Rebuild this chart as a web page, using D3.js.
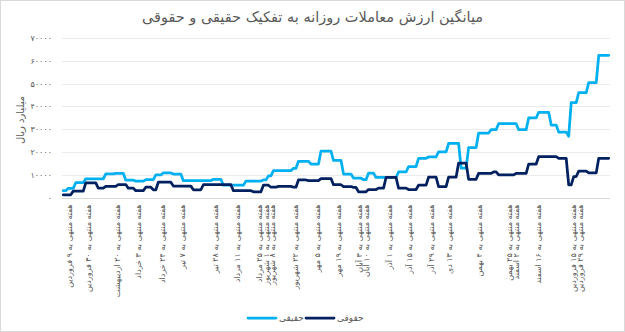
<!DOCTYPE html>
<html>
<head>
<meta charset="utf-8">
<script src="https://cdn.jsdelivr.net/npm/d3@7"></script>
<style>
  body { margin: 0; background: #fff; }
  svg { display: block; }
  text { font-family: "DejaVu Sans", "Noto Sans", sans-serif; fill: #595959; }
</style>
</head>
<body>
<svg id="chart" width="625" height="332"></svg>
<script>
// Average daily trading value (billion rials), individual vs. institutional.
const chartTitle = "میانگین ارزش معاملات روزانه به تفکیک حقیقی و حقوقی";
const yAxisTitle = "میلیارد ریال";
const seriesNames = ["حقیقی", "حقوقی"];
const yTicks = [0, 10000, 20000, 30000, 40000, 50000, 60000, 70000];

// Weekly average held over that week's trading days: [value, trading days]
const realSteps = [
  [3000,2],[4000,3],[6500,4],[8200,8],[10400,4],[10600,4],[7600,4],[7200,4],
  [7800,4],[9900,3],[10800,4],[10300,4],[7400,12],[8000,4],[5400,9],[7200,7],
  [7700,2],[9500,2],[11800,8],[12800,2],[15900,5],[14700,4],[20300,5],[16300,4],
  [10300,4],[8500,4],[7800,2],[10700,3],[8800,9],[11200,4],[13600,4],[17200,4],
  [17800,4],[20000,4],[23700,5],[12900,3],[21900,4],[28300,5],[29800,3],[32400,8],
  [29800,4],[34900,4],[37400,5],[31800,3],[28700,4],[26900,1],[41600,3],[46000,4],
  [50400,4],[62400,5]
];
const legalSteps = [
  [1200,4],[2800,5],[6400,5],[4100,3],[4900,5],[5700,4],[4100,3],[3000,4],
  [4500,3],[3400,2],[6700,6],[5000,8],[3400,4],[5600,12],[3000,8],[2500,4],
  [5400,3],[4500,3],[4900,6],[4500,2],[7700,4],[7400,5],[8300,5],[5600,4],
  [4800,4],[4400,2],[2500,4],[3500,4],[4100,3],[8800,5],[4100,4],[3500,4],
  [5400,4],[8900,4],[4800,4],[8900,4],[15100,4],[8000,4],[10600,6],[11200,2],
  [9900,7],[10600,5],[14700,4],[17900,8],[17200,4],[5500,2],[9200,2],[11600,4],
  [10800,4],[17200,5]
];

// Category labels: trading-day index and the week-ending dates shown there
const weekLabels = [
  { day: 2.5,   lines: ["هفته منتهی به ۹ فروردین"] },
  { day: 10,    lines: ["هفته منتهی به ۳۰ فروردین"] },
  { day: 21.5,  lines: ["هفته منتهی به ۲۰ اردیبهشت"] },
  { day: 30,    lines: ["هفته منتهی به ۳ خرداد"] },
  { day: 39.5,  lines: ["هفته منتهی به ۲۴ خرداد"] },
  { day: 47.5,  lines: ["هفته منتهی به ۷ تیر"] },
  { day: 61,    lines: ["هفته منتهی به ۲۸ تیر"] },
  { day: 69.5,  lines: ["هفته منتهی به ۱۱ مرداد"] },
  { day: 78.5,  lines: ["هفته منتهی به ۲۵ مرداد", "هفته منتهی به ۱ شهریور", "هفته منتهی به ۸ شهریور"] },
  { day: 93,    lines: ["هفته منتهی به ۲۲ شهریور"] },
  { day: 101.5, lines: ["هفته منتهی به ۵ مهر"] },
  { day: 110,   lines: ["هفته منتهی به ۱۹ مهر"] },
  { day: 118.5, lines: ["هفته منتهی به ۳ آبان", "هفته منتهی به ۱۰ آبان"] },
  { day: 130.5, lines: ["هفته منتهی به ۱ آذر"] },
  { day: 138.5, lines: ["هفته منتهی به ۱۵ آذر"] },
  { day: 147,   lines: ["هفته منتهی به ۲۹ آذر"] },
  { day: 154.5, lines: ["هفته منتهی به ۱۳ دی"] },
  { day: 166.5, lines: ["هفته منتهی به ۴ بهمن"] },
  { day: 178.5, lines: ["هفته منتهی به ۲۵ بهمن", "هفته منتهی به ۲ اسفند"] },
  { day: 190,   lines: ["هفته منتهی به ۱۶ اسفند"] },
  { day: 204,   lines: ["هفته منتهی به ۱۵ فروردین", "هفته منتهی به ۲۹ فروردین"] }
];

const colors = ["#00b0f0", "#002060"];

// Spread each weekly value over its trading days
function expand(steps) {
  const out = [];
  steps.forEach(([v, n]) => { for (let i = 0; i < n; i++) out.push(v); });
  return out.map((v, d) => [d, v]);
}
const series = [expand(realSteps), expand(legalSteps)];
const nDays = series[0].length;

const toFa = s => String(s).replace(/\d/g, c => "۰۱۲۳۴۵۶۷۸۹"[c]);

const svg = d3.select("#chart");
const W = 625, H = 332;
const plot = { left: 62, right: 610, top: 38, bottom: 197.5 };

svg.append("rect")
  .attr("x", 0.5).attr("y", 0.5).attr("width", W - 1).attr("height", H - 1)
  .attr("fill", "#fff").attr("stroke", "#d9d9d9");

const x = d3.scaleLinear().domain([-0.5, nDays - 0.5]).range([plot.left, plot.right]);
const y = d3.scaleLinear().domain([0, 70000]).range([plot.bottom, plot.top]);

// Title
svg.append("text")
  .attr("x", W / 2).attr("y", 22)
  .attr("text-anchor", "middle")
  .attr("font-size", 14.5)
  .text(chartTitle);

// Gridlines and value axis
const grid = svg.append("g");
grid.selectAll("line").data(yTicks).join("line")
  .attr("x1", plot.left).attr("x2", plot.right)
  .attr("y1", d => Math.round(y(d)) + 0.5).attr("y2", d => Math.round(y(d)) + 0.5)
  .attr("stroke", d => d === 0 ? "#d9d9d9" : "#ebebeb")
  .attr("stroke-width", 1);

const yAxis = d3.axisLeft(y).tickValues(yTicks).tickSize(0).tickPadding(0)
  .tickFormat(d => toFa(d));
svg.append("g")
  .attr("transform", `translate(${plot.left - 10},0)`)
  .call(yAxis)
  .call(g => g.select(".domain").remove())
  .call(g => g.selectAll("text").attr("font-size", 8).attr("fill", "#595959")
    .attr("font-family", "DejaVu Sans, sans-serif"));

svg.append("text")
  .attr("transform", "translate(20,120) rotate(-90)")
  .attr("text-anchor", "middle")
  .attr("dominant-baseline", "central")
  .attr("font-size", 10)
  .text(yAxisTitle);

// Category labels, rotated
const labelG = svg.append("g");
weekLabels.forEach(lab => {
  lab.lines.forEach((line, j) => {
    labelG.append("text")
      .attr("transform", `translate(${x(lab.day) + j * 6.5},${plot.bottom + 7}) rotate(-90)`)
      .attr("text-anchor", "end")
      .attr("dominant-baseline", "central")
      .attr("font-size", 8)
      .text(line);
  });
});

// Series lines
const line = d3.line().x(d => x(d[0])).y(d => y(d[1]));
svg.append("g").selectAll("path").data(series).join("path")
  .attr("d", line)
  .attr("fill", "none")
  .attr("stroke", (d, i) => colors[i])
  .attr("stroke-width", 2.75)
  .attr("stroke-linejoin", "round")
  .attr("stroke-linecap", "round");

// Legend
const legend = svg.append("g").attr("transform", "translate(248,318)");
const entryX = [0, 58];
seriesNames.forEach((name, i) => {
  const g = legend.append("g").attr("transform", `translate(${entryX[i]},0)`);
  g.append("line").attr("x1", 0).attr("x2", 28).attr("y1", 0).attr("y2", 0)
    .attr("stroke", colors[i]).attr("stroke-width", 2.75).attr("stroke-linecap", "round");
  g.append("text").attr("x", 31).attr("y", 0)
    .attr("dominant-baseline", "central")
    .attr("text-anchor", "start")
    .attr("font-size", 9)
    .text(name);
});
</script>
</body>
</html>
